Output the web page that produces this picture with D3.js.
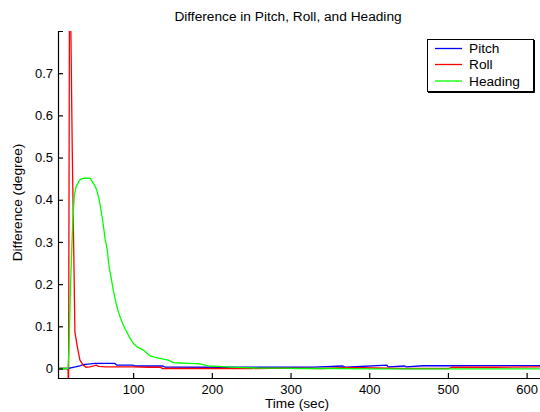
<!DOCTYPE html>
<html><head><meta charset="utf-8">
<script src="https://cdn.jsdelivr.net/npm/d3@7"></script>
<style>
html,body{margin:0;padding:0;background:#fff;}
svg{display:block;}
text{font-family:"Liberation Sans",Arial,Helvetica,sans-serif;}
</style></head>
<body>
<script>
const titleText = "Difference in Pitch, Roll, and Heading";
const xLabel = "Time (sec)";
const yLabel = "Difference (degree)";
const seriesNames = ["Pitch", "Roll", "Heading"];
const seriesColors = ["#0000ff", "#ff0000", "#00ff00"];
const xTicks = [100, 200, 300, 400, 500, 600];
const yTicks = [0, 0.1, 0.2, 0.3, 0.4, 0.5, 0.6, 0.7];

const pitchT = [4.5, 17.2, 22.2, 32.4, 36.2, 51.5, 76.9, 79.4, 99.7, 102.3, 137.9, 140.4, 200, 260, 300, 330, 366.6, 370, 422.5, 424, 445.3, 447, 468.2, 500, 560, 617];
const pitchV = [0, 0, 0.002, 0.006, 0.009, 0.012, 0.012, 0.008, 0.008, 0.006, 0.006, 0.0035, 0.003, 0.003, 0.003, 0.0035, 0.006, 0.003, 0.008, 0.004, 0.006, 0.004, 0.0065, 0.0065, 0.007, 0.007];

const rollT = [4.5, 17.2, 17.9, 19.3, 22.6, 26.0, 29.0, 32.4, 36.6, 40, 45, 50, 53, 56, 65, 80, 100, 120, 135, 137, 180, 250, 300, 340, 366, 390, 440, 500, 506, 560, 617];
const rollV = [0, 0, -0.06, 1.05, 0.52, 0.087, 0.052, 0.02, 0.008, 0.003, 0.004, 0.006, 0.008, 0.005, 0.004, 0.004, 0.004, 0.003, 0.003, 0, 0, 0, 0.001, 0, 0.002, 0.002, 0, 0, 0.003, 0.003, 0.004];

const headingT = [4.5, 17.2, 18.4, 20.5, 21.9, 23.6, 25.2, 27.3, 30, 32.4, 35, 38.8, 45.1, 48.0, 50.5, 53.6, 56.9, 58.7, 61.2, 64.2, 67.1, 69.3, 71.8, 74.7, 76.9, 79.8, 83.2, 87.4, 91.7, 95.9, 100.1, 106, 112.8, 121.3, 127, 134.1, 144.6, 151.0, 159.5, 172, 184.9, 195.4, 210, 223.0, 240, 261, 290, 312, 360, 400, 439, 500, 560, 617];
const headingV = [0, 0, 0.044, 0.2, 0.28, 0.36, 0.41, 0.43, 0.44, 0.447, 0.45, 0.451, 0.451, 0.443, 0.436, 0.424, 0.40, 0.38, 0.352, 0.309, 0.281, 0.242, 0.218, 0.186, 0.167, 0.143, 0.123, 0.103, 0.087, 0.072, 0.06, 0.05, 0.044, 0.03, 0.027, 0.024, 0.02, 0.014, 0.013, 0.012, 0.011, 0.006, 0.005, 0.0035, 0.002, 0.001, 0.001, 0, 0, -0.001, -0.001, -0.001, -0.001, -0.001];

const W = 540, H = 412;
const L = 58, R = 540, T = 31, B = 378;
const FS = 13.7, TFS = 13;

const svg = d3.select("body").append("svg").attr("width", W).attr("height", H);

const x = d3.scaleLinear().domain([4.5, 617]).range([L, R]);
const y = d3.scaleLinear().domain([-0.0225, 0.8]).range([B, T]);

svg.append("defs").append("clipPath").attr("id", "clip")
  .append("rect").attr("x", L).attr("y", T).attr("width", R - L).attr("height", B - T);

const series = [
  {name: seriesNames[0], color: seriesColors[0], t: pitchT, v: pitchV},
  {name: seriesNames[1], color: seriesColors[1], t: rollT, v: rollV},
  {name: seriesNames[2], color: seriesColors[2], t: headingT, v: headingV}
];

const line = d3.line().x(d => x(d[0])).y(d => y(d[1]));
const plot = svg.append("g").attr("clip-path", "url(#clip)");
series.forEach(s => {
  plot.append("path")
    .datum(s.t.map((t, i) => [t, s.v[i]]))
    .attr("fill", "none").attr("stroke", s.color).attr("stroke-width", 1.3)
    .attr("stroke-linejoin", "round")
    .attr("d", line);
});

const xAxis = svg.append("g").attr("transform", `translate(0,${B})`)
  .call(d3.axisBottom(x).tickValues(xTicks).tickFormat(d3.format("d")).tickSizeInner(-5).tickSizeOuter(0).tickPadding(7));
const yAxis = svg.append("g").attr("transform", `translate(${L},0)`)
  .call(d3.axisLeft(y).tickValues(yTicks).tickFormat(d => d === 0 ? "0" : d3.format(".1f")(d)).tickSizeInner(-5).tickSizeOuter(-5).tickPadding(5));
[xAxis, yAxis].forEach(g => {
  g.selectAll("text").attr("font-size", TFS).attr("fill", "#000")
    .attr("font-family", '"Liberation Sans",Arial,Helvetica,sans-serif');
  g.select(".domain").attr("stroke", "#000").attr("stroke-width", 1.2);
  g.selectAll(".tick line").attr("stroke", "#000").attr("stroke-width", 1.2);
});

svg.append("text").attr("x", 288).attr("y", 21).attr("text-anchor", "middle")
  .attr("font-size", FS).text(titleText);
svg.append("text").attr("x", 297).attr("y", 408).attr("text-anchor", "middle")
  .attr("font-size", FS).text(xLabel);
svg.append("text").attr("transform", `translate(22,${(T + B) / 2 - 2}) rotate(-90)`)
  .attr("text-anchor", "middle").attr("font-size", FS).text(yLabel);

// legend
const lg = svg.append("g");
lg.append("rect").attr("x", 427.5).attr("y", 39.5).attr("width", 106).attr("height", 52)
  .attr("fill", "#fff").attr("stroke", "#000").attr("stroke-width", 1);
lg.append("path").attr("d", "M534.5,40V92.5H428").attr("fill", "none").attr("stroke", "#000").attr("stroke-width", 1);
const rowY = [48.5, 64.5, 81];
series.forEach((s, i) => {
  lg.append("line").attr("x1", 435).attr("x2", 462).attr("y1", rowY[i]).attr("y2", rowY[i])
    .attr("stroke", s.color).attr("stroke-width", 1.3);
  lg.append("text").attr("x", 469).attr("y", rowY[i]).attr("dy", "0.36em")
    .attr("font-size", FS).text(s.name);
});
</script>
</body></html>
